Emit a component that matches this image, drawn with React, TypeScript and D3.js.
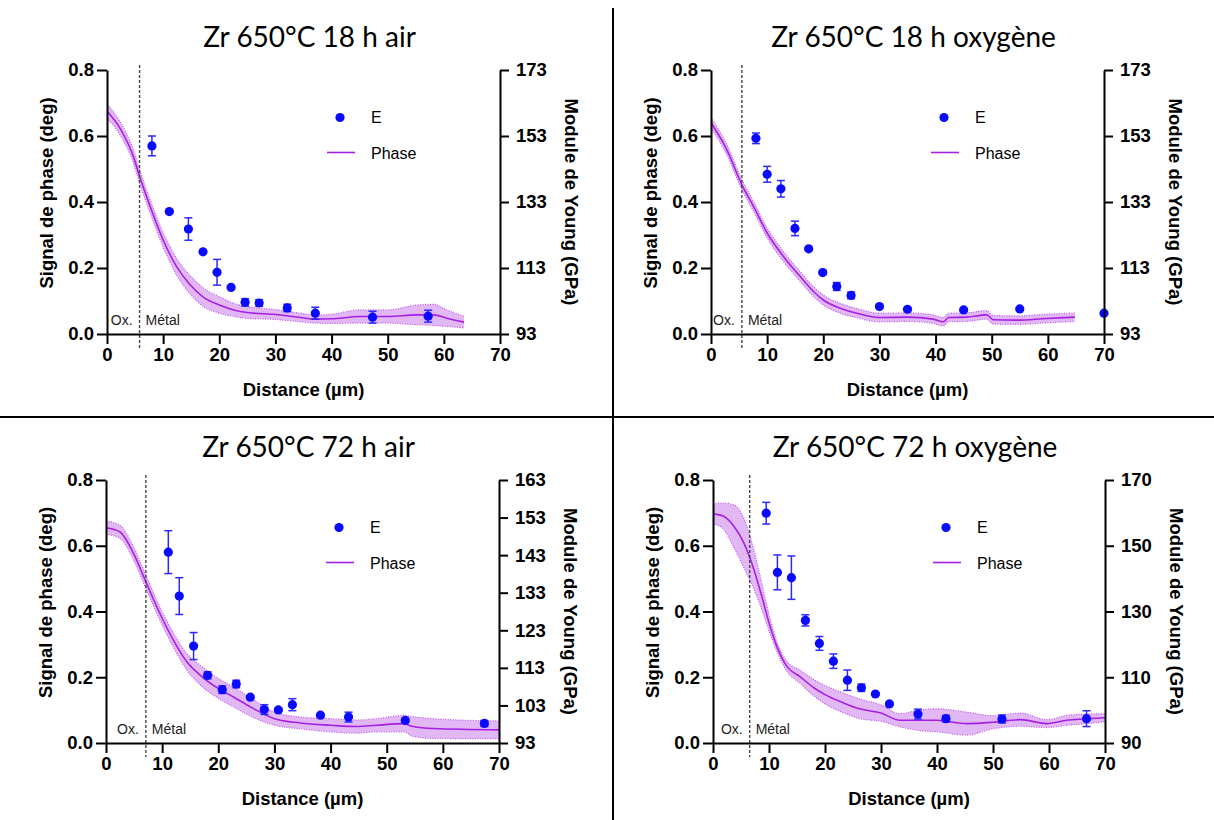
import React, { useEffect, useRef } from 'react';
import * as d3 from 'd3';

// ---------- shared axes ----------
const xTicks = [0, 10, 20, 30, 40, 50, 60, 70];
const leftTicks = [0, 0.2, 0.4, 0.6, 0.8];
const titles = ['Zr 650°C 18 h air', 'Zr 650°C 18 h oxygène', 'Zr 650°C 72 h air', 'Zr 650°C 72 h oxygène'];
const xLabel = 'Distance (µm)';
const yLeftLabel = 'Signal de phase (deg)';
const yRightLabel = 'Module de Young (GPa)';
const legendLabels = ['E', 'Phase'];

// ---------- panel 1 : 18 h air ----------
const p1Interface = 5.8;
const p1PhaseDist = [0, 2.3, 4.7, 5.8, 7.7, 10, 12.4, 14.8, 17.2, 20, 22.6, 25, 30, 34.5, 37, 40, 45, 50, 55.2, 58.2, 60.5, 63.6];
const p1Phase = [0.675, 0.624, 0.538, 0.478, 0.386, 0.285, 0.204, 0.149, 0.111, 0.088, 0.073, 0.065, 0.059, 0.05, 0.045, 0.046, 0.053, 0.053, 0.058, 0.058, 0.048, 0.036];
const p1PhaseSd = [0.022, 0.02, 0.02, 0.02, 0.02, 0.022, 0.025, 0.028, 0.028, 0.025, 0.02, 0.018, 0.015, 0.013, 0.012, 0.014, 0.02, 0.02, 0.03, 0.032, 0.025, 0.018];
const p1EDist = [8, 11.1, 14.5, 17.1, 19.6, 22.1, 24.6, 27.1, 32.1, 37.1, 47.3, 57.2];
const p1E = [150.0, 130.1, 124.8, 117.9, 111.7, 107.1, 102.6, 102.4, 100.9, 99.3, 98.1, 98.4];
const p1EErr = [3.0, 0.4, 3.4, 0.4, 3.9, 0.4, 1.1, 1.0, 1.1, 1.8, 1.8, 1.8];
const p1RightDomain = [93, 173];
const p1RightTicks = [93, 113, 133, 153, 173];

// ---------- panel 2 : 18 h oxygène ----------
const p2Interface = 5.5;
const p2PhaseDist = [0, 2.8, 5.5, 7.6, 10, 12.9, 15.9, 18.3, 20, 23, 26, 30, 35, 39.6, 41.4, 42.3, 45.5, 49.1, 50.3, 54.4, 59.8, 64.8];
const p2Phase = [0.64, 0.559, 0.452, 0.386, 0.306, 0.235, 0.174, 0.128, 0.103, 0.078, 0.063, 0.05, 0.051, 0.045, 0.037, 0.05, 0.051, 0.058, 0.043, 0.042, 0.047, 0.051];
const p2PhaseSd = [0.016, 0.015, 0.015, 0.015, 0.015, 0.015, 0.015, 0.015, 0.015, 0.015, 0.014, 0.013, 0.013, 0.013, 0.013, 0.013, 0.013, 0.013, 0.013, 0.013, 0.013, 0.013];
const p2EDist = [8, 10, 12.45, 14.95, 17.4, 19.9, 22.4, 24.95, 30, 35, 45, 55, 70];
const p2E = [152.3, 141.4, 137.0, 125.0, 118.8, 111.6, 107.4, 104.7, 101.3, 100.5, 100.3, 100.6, 99.3];
const p2EErr = [1.6, 2.4, 2.5, 2.2, 0.4, 0.4, 1.2, 1.0, 0.4, 0.4, 0.4, 0.4, 0.4];
const p2RightDomain = [93, 173];
const p2RightTicks = [93, 113, 133, 153, 173];

// ---------- panel 3 : 72 h air ----------
const p3Interface = 7.1;
const p3PhaseDist = [0, 2.5, 4.9, 7.1, 9.6, 12, 14.4, 16.8, 20, 22.7, 25.7, 30, 34.6, 40, 44.6, 48.2, 53, 54.7, 58.3, 70];
const p3Phase = [0.655, 0.642, 0.577, 0.49, 0.394, 0.313, 0.247, 0.206, 0.166, 0.14, 0.11, 0.074, 0.061, 0.054, 0.05, 0.054, 0.059, 0.05, 0.044, 0.04];
const p3PhaseSd = [0.02, 0.02, 0.02, 0.02, 0.02, 0.022, 0.025, 0.03, 0.03, 0.03, 0.028, 0.02, 0.018, 0.02, 0.02, 0.02, 0.025, 0.03, 0.03, 0.027];
const p3EDist = [11.1, 13.05, 15.6, 18.1, 20.7, 23.2, 25.7, 28.2, 30.7, 33.2, 38.2, 43.2, 53.3, 67.4];
const p3E = [143.8, 132.1, 118.8, 111.0, 107.2, 108.7, 105.2, 101.9, 101.8, 103.2, 100.4, 99.9, 99.0, 98.2];
const p3EErr = [5.7, 4.9, 3.6, 0.9, 1.0, 1.0, 0.4, 1.3, 0.4, 1.6, 0.4, 1.3, 0.5, 0.8];
const p3RightDomain = [93, 163];
const p3RightTicks = [93, 103, 113, 123, 133, 143, 153, 163];

// ---------- panel 4 : 72 h oxygène ----------
const p4Interface = 6.55;
const p4PhaseDist = [0, 1.9, 3.7, 5.5, 7.3, 8.7, 10, 11.4, 13.2, 15.6, 18, 20, 23.3, 26.2, 30, 33.4, 36.4, 40, 45.3, 50, 54.9, 59.6, 63.2, 66.2, 70];
const p4Phase = [0.697, 0.69, 0.66, 0.609, 0.528, 0.447, 0.366, 0.294, 0.233, 0.201, 0.168, 0.147, 0.122, 0.104, 0.091, 0.069, 0.069, 0.069, 0.059, 0.063, 0.071, 0.059, 0.069, 0.073, 0.077];
const p4PhaseSd = [0.03, 0.04, 0.065, 0.075, 0.06, 0.04, 0.025, 0.015, 0.015, 0.02, 0.025, 0.028, 0.03, 0.03, 0.025, 0.02, 0.03, 0.035, 0.035, 0.02, 0.02, 0.012, 0.015, 0.015, 0.012];
const p4EDist = [9.5, 11.5, 14.0, 16.5, 19.0, 21.5, 24.0, 26.5, 29.0, 31.5, 36.6, 41.6, 51.6, 66.7];
const p4E = [159.9, 141.9, 140.3, 127.3, 120.3, 114.9, 109.1, 106.8, 104.9, 101.9, 98.8, 97.4, 97.3, 97.4];
const p4EErr = [3.3, 5.3, 6.6, 1.7, 2.1, 2.2, 3.1, 1.1, 0.4, 0.4, 1.5, 1.0, 1.2, 2.4];
const p4RightDomain = [90, 170];
const p4RightTicks = [90, 110, 130, 150, 170];

const panelsData = [
  { title: titles[0], iface: p1Interface, pd: p1PhaseDist, pv: p1Phase, ps: p1PhaseSd, ed: p1EDist, ev: p1E, ee: p1EErr, rd: p1RightDomain, rt: p1RightTicks },
  { title: titles[1], iface: p2Interface, pd: p2PhaseDist, pv: p2Phase, ps: p2PhaseSd, ed: p2EDist, ev: p2E, ee: p2EErr, rd: p2RightDomain, rt: p2RightTicks },
  { title: titles[2], iface: p3Interface, pd: p3PhaseDist, pv: p3Phase, ps: p3PhaseSd, ed: p3EDist, ev: p3E, ee: p3EErr, rd: p3RightDomain, rt: p3RightTicks },
  { title: titles[3], iface: p4Interface, pd: p4PhaseDist, pv: p4Phase, ps: p4PhaseSd, ed: p4EDist, ev: p4E, ee: p4EErr, rd: p4RightDomain, rt: p4RightTicks },
];

// layout (pixel frames of each plot area)
const frames = [
  { left: 107, right: 500, top: 70, bottom: 334 },
  { left: 711, right: 1104, top: 70, bottom: 334 },
  { left: 106, right: 499, top: 480, bottom: 743 },
  { left: 713, right: 1105, top: 480, bottom: 743 },
];

const PURPLE = '#a61fe6';
const BAND = '#e2b8f4';
const BLUE = '#0a0aff';
const TICK_FONT = "'Liberation Sans', Arial, sans-serif";

export default function App() {
  const ref = useRef<SVGSVGElement | null>(null);

  useEffect(() => {
    const svg = d3.select(ref.current);
    svg.selectAll('*').remove();

    // separators
    svg.append('line').attr('x1', 613).attr('x2', 613).attr('y1', 8).attr('y2', 820).attr('stroke', '#000').attr('stroke-width', 2);
    svg.append('line').attr('x1', 0).attr('x2', 1214).attr('y1', 417).attr('y2', 417).attr('stroke', '#000').attr('stroke-width', 2);

    panelsData.forEach((p, i) => {
      const f = frames[i];
      const g = svg.append('g');
      const x = d3.scaleLinear().domain([0, 70]).range([f.left, f.right]);
      const y = d3.scaleLinear().domain([0, 0.8]).range([f.bottom, f.top]);
      const yr = d3.scaleLinear().domain(p.rd).range([f.bottom, f.top]);
      const cx = (f.left + f.right) / 2;

      // title
      g.append('text').attr('x', cx + 6).attr('y', f.top - 23).attr('text-anchor', 'middle')
        .attr('font-family', "Lato, 'Open Sans', sans-serif").attr('font-size', 28).attr('fill', '#000').text(p.title);

      // band + line
      const pts = p.pd.map((d, k) => ({ d, v: p.pv[k], s: p.ps[k] }));
      const area = d3.area<any>().x(o => x(o.d)).y0(o => y(o.v - o.s)).y1(o => y(o.v + o.s)).curve(d3.curveMonotoneX);
      g.append('path').attr('d', area(pts)).attr('fill', BAND).attr('stroke', 'none');
      const upper = d3.line<any>().x(o => x(o.d)).y(o => y(o.v + o.s)).curve(d3.curveMonotoneX);
      const lower = d3.line<any>().x(o => x(o.d)).y(o => y(o.v - o.s)).curve(d3.curveMonotoneX);
      [upper, lower].forEach(l => g.append('path').attr('d', l(pts)).attr('fill', 'none').attr('stroke', '#c055ee').attr('stroke-width', 1.2).attr('stroke-dasharray', '1 1.5'));
      const mid = d3.line<any>().x(o => x(o.d)).y(o => y(o.v)).curve(d3.curveMonotoneX);
      g.append('path').attr('d', mid(pts)).attr('fill', 'none').attr('stroke', PURPLE).attr('stroke-width', 1.6);

      // interface dashed line
      g.append('line').attr('x1', x(p.iface)).attr('x2', x(p.iface)).attr('y1', f.top - 5).attr('y2', f.bottom + 14)
        .attr('stroke', '#444').attr('stroke-width', 1.4).attr('stroke-dasharray', '3 2');
      g.append('text').attr('x', x(p.iface) - 7).attr('y', f.bottom - 9).attr('text-anchor', 'end')
        .attr('font-family', TICK_FONT).attr('font-size', 14).attr('fill', '#222').text('Ox.');
      g.append('text').attr('x', x(p.iface) + 6).attr('y', f.bottom - 9)
        .attr('font-family', TICK_FONT).attr('font-size', 14).attr('fill', '#222').text('Métal');

      // E points with error bars
      const eg = g.append('g');
      p.ed.forEach((d, k) => {
        const px = x(d);
        const v = p.ev[k], e = p.ee[k];
        const y1 = yr(v + e), y2 = yr(v - e);
        eg.append('line').attr('x1', px).attr('x2', px).attr('y1', y1).attr('y2', y2).attr('stroke', '#2a2aff').attr('stroke-width', 1.5);
        [y1, y2].forEach(yy => eg.append('line').attr('x1', px - 4).attr('x2', px + 4).attr('y1', yy).attr('y2', yy).attr('stroke', '#2a2aff').attr('stroke-width', 1.5));
        eg.append('circle').attr('cx', px).attr('cy', yr(v)).attr('r', 4.6).attr('fill', BLUE);
      });

      // axes
      const styleAxis = (sel: any) => {
        sel.select('.domain').attr('stroke', '#000').attr('stroke-width', 2);
        sel.selectAll('.tick line').attr('stroke', '#000').attr('stroke-width', 2);
        sel.selectAll('.tick text').attr('font-family', TICK_FONT).attr('font-weight', 'bold').attr('font-size', 18.5).attr('fill', '#000');
      };
      const ax = g.append('g').attr('transform', `translate(0,${f.bottom})`)
        .call(d3.axisBottom(x).tickValues(xTicks).tickSize(10).tickPadding(4).tickSizeOuter(0).tickFormat(d3.format('d')) as any);
      styleAxis(ax);
      const ay = g.append('g').attr('transform', `translate(${f.left},0)`)
        .call(d3.axisLeft(y).tickValues(leftTicks).tickSize(10).tickPadding(3).tickSizeOuter(0).tickFormat(d3.format('.1f')) as any);
      styleAxis(ay);
      const ayr = g.append('g').attr('transform', `translate(${f.right},0)`)
        .call(d3.axisRight(yr).tickValues(p.rt).tickSize(9).tickPadding(7).tickSizeOuter(0).tickFormat(d3.format('d')) as any);
      styleAxis(ayr);

      // axis titles
      g.append('text').attr('x', cx).attr('y', f.bottom + 62).attr('text-anchor', 'middle')
        .attr('font-family', TICK_FONT).attr('font-weight', 'bold').attr('font-size', 18.5).text(xLabel);
      const lcy = (f.top + f.bottom) / 2;
      g.append('text').attr('transform', `translate(${f.left - 54},${lcy - 9}) rotate(-90)`).attr('text-anchor', 'middle')
        .attr('font-family', TICK_FONT).attr('font-weight', 'bold').attr('font-size', 18.5).text(yLeftLabel);
      g.append('text').attr('transform', `translate(${f.right + 65},${lcy}) rotate(90)`).attr('text-anchor', 'middle')
        .attr('font-family', TICK_FONT).attr('font-weight', 'bold').attr('font-size', 18.5).text(yRightLabel);

      // legend
      const lx = f.left + 233;
      g.append('circle').attr('cx', lx).attr('cy', f.top + 47.5).attr('r', 4.6).attr('fill', BLUE);
      g.append('text').attr('x', f.left + 264).attr('y', f.top + 53).attr('font-family', TICK_FONT).attr('font-size', 16).text(legendLabels[0]);
      g.append('line').attr('x1', f.left + 220).attr('x2', f.left + 248).attr('y1', f.top + 82.5).attr('y2', f.top + 82.5).attr('stroke', PURPLE).attr('stroke-width', 1.6);
      g.append('text').attr('x', f.left + 264).attr('y', f.top + 89).attr('font-family', TICK_FONT).attr('font-size', 16).text(legendLabels[1]);
    });
  }, []);

  return (
    <svg ref={ref} width={1214} height={820} style={{ position: 'absolute', left: 0, top: 0, background: '#fff' }} />
  );
}
